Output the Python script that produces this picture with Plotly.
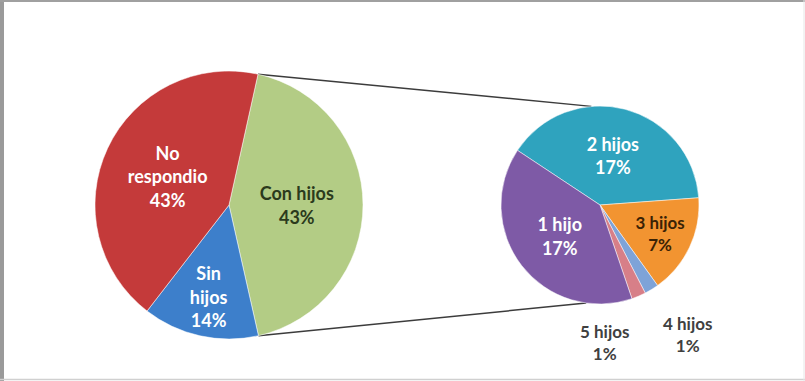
import math
import plotly.graph_objects as go

# Main pie: household status
main_labels = ["Con hijos", "Sin hijos", "No respondio"]
main_text = ["Con hijos", "Sin<br>hijos", "No<br>respondio"]
main_values = [43, 14, 43]
main_colors = ["#B3CC85", "#3D7FCB", "#C43A3A"]
main_font_colors = ["#2B3A1C", "#FFFFFF", "#FFFFFF"]

# Breakdown pie: number of children (share of total)
sub_labels = ["2 hijos", "3 hijos", "4 hijos", "5 hijos", "1 hijo"]
sub_values = [17, 7, 1, 1, 17]
sub_colors = ["#2FA3BE", "#F29431", "#7EA3D8", "#D77F88", "#7E5AA6"]
sub_font_colors = ["#FFFFFF", "#3A2205", "#FFFFFF", "#FFFFFF", "#FFFFFF"]
sub_positions = ["inside", "inside", "none", "none", "inside"]

W, H = 805, 381
FONT = "Lato"

# pie placement in pixels
main_cx, main_cy, main_r = 229, 205, 134
sub_cx, sub_cy, sub_r = 600, 205, 99
main_rotation = 12.5
sub_rotation = -56.5

# label offsets (pixels from the breakdown pie centre) for the thin slices
small_label_offsets = {"4 hijos": (87, 106), "5 hijos": (4, 114)}


def dom(cx, cy, r):
    return dict(x=[(cx - r) / W, (cx + r) / W],
                y=[1 - (cy + r) / H, 1 - (cy - r) / H])


def px_to_paper(x, y):
    return x / W, 1 - y / H


fig = go.Figure()

fig.add_trace(go.Pie(
    labels=main_labels, values=main_values, text=main_text,
    sort=False, direction="clockwise", rotation=main_rotation,
    domain=dom(main_cx, main_cy, main_r),
    marker=dict(colors=main_colors, line=dict(color="rgba(255,255,255,0.5)", width=1)),
    texttemplate="<b>%{text}<br>%{percent:.0%}</b>",
    textposition="inside", insidetextorientation="horizontal",
    insidetextfont=dict(family=FONT, size=18, color=main_font_colors),
    showlegend=False, hoverinfo="label+percent",
))

fig.add_trace(go.Pie(
    labels=sub_labels, values=sub_values, text=sub_labels,
    sort=False, direction="clockwise", rotation=sub_rotation,
    domain=dom(sub_cx, sub_cy, sub_r),
    marker=dict(colors=sub_colors, line=dict(color="rgba(255,255,255,0.5)", width=1)),
    texttemplate="<b>%{text}<br>%{value}%</b>",
    textposition=sub_positions, insidetextorientation="horizontal",
    insidetextfont=dict(family=FONT, size=18, color=sub_font_colors),
    showlegend=False, hoverinfo="label+value", automargin=False,
))

annotations = []
for lab, val in zip(sub_labels, sub_values):
    if lab in small_label_offsets:
        dx, dy = small_label_offsets[lab]
        ax, ay = px_to_paper(sub_cx + dx, sub_cy + dy)
        annotations.append(dict(
            x=ax, y=ay, xref="paper", yref="paper", showarrow=False,
            xanchor="center", yanchor="top",
            text=f"<b>{lab}<br>{val}%</b>",
            font=dict(family=FONT, size=17, color="#404040"),
        ))

# connector lines from the "Con hijos" slice edges to the breakdown pie
a0 = math.radians(main_rotation)
a1 = math.radians(main_rotation + 360 * main_values[0] / sum(main_values))
p_top = (main_cx + main_r * math.sin(a0), main_cy - main_r * math.cos(a0))
p_bot = (main_cx + main_r * math.sin(a1), main_cy - main_r * math.cos(a1))
b_top = math.radians(-5)
b_bot = math.radians(188)
q_top = (sub_cx + sub_r * math.sin(b_top), sub_cy - sub_r * math.cos(b_top))
q_bot = (sub_cx + sub_r * math.sin(b_bot), sub_cy - sub_r * math.cos(b_bot))

shapes = []
for p, q in [(p_top, q_top), (p_bot, q_bot)]:
    x0, y0 = px_to_paper(*p)
    x1, y1 = px_to_paper(*q)
    shapes.append(dict(type="line", xref="paper", yref="paper",
                       x0=x0, y0=y0, x1=x1, y1=y1,
                       line=dict(color="#3C3C3C", width=1.5), layer="below"))

# chart frame
shapes += [
    dict(type="line", xref="paper", yref="paper", x0=2 / W, x1=2 / W, y0=0, y1=1,
         line=dict(color="#9A9A9A", width=4)),
    dict(type="line", xref="paper", yref="paper", x0=0, x1=1, y0=1 - 1 / H, y1=1 - 1 / H,
         line=dict(color="#A0A0A0", width=2)),
    dict(type="line", xref="paper", yref="paper", x0=0, x1=1, y0=1.5 / H, y1=1.5 / H,
         line=dict(color="#D0D0D0", width=1.5)),
    dict(type="line", xref="paper", yref="paper", x0=1 - 1 / W, x1=1 - 1 / W, y0=0, y1=1,
         line=dict(color="#E6E6E6", width=1)),
]

fig.update_layout(
    width=W, height=H,
    margin=dict(l=0, r=0, t=0, b=0),
    paper_bgcolor="white", plot_bgcolor="white",
    shapes=shapes, annotations=annotations,
    font=dict(family=FONT),
)

fig.write_html("out.html")
